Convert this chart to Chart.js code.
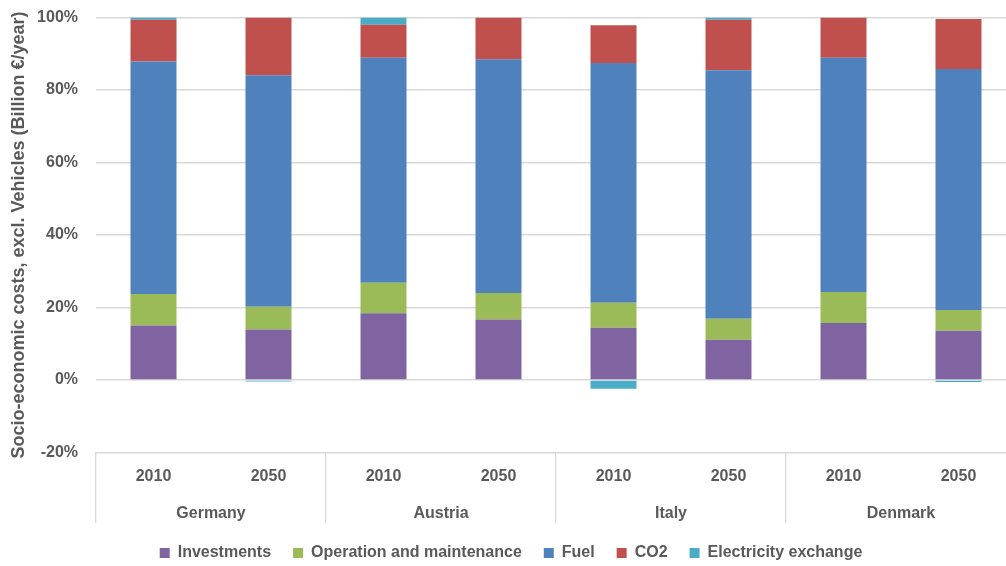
<!DOCTYPE html>
<html>
<head>
<meta charset="utf-8">
<script src="https://cdn.jsdelivr.net/npm/chart.js@4.4.0/dist/chart.umd.min.js"></script>
<style>
  html, body { margin: 0; padding: 0; background: #ffffff; overflow: hidden; }
  #wrap { width: 1026px; height: 571px; position: relative; }
</style>
</head>
<body>
<div id="wrap"><canvas id="c"></canvas></div>
<script>
const years = ['2010', '2050', '2010', '2050', '2010', '2050', '2010', '2050'];
const countries = ['Germany', 'Austria', 'Italy', 'Denmark'];
const investments = [15.0, 13.9, 18.4, 16.7, 14.4, 11.1, 15.7, 13.6];
const operationMaintenance = [8.7, 6.3, 8.4, 7.3, 6.9, 5.8, 8.6, 5.7];
const fuel = [64.2, 63.9, 62.1, 64.5, 66.2, 68.6, 64.6, 66.5];
const co2 = [11.5, 15.9, 9.1, 11.5, 10.4, 13.9, 11.1, 13.8];
const electricityExchange = [0.6, -0.4, 2.0, 0, -2.4, 0.6, 0, -0.6];
const yTicks = [-20, 0, 20, 40, 60, 80, 100];

const FONT = "'Liberation Sans', Arial, sans-serif";
const GREY = '#595959';
const GRID = '#d9d9d9';

function ds(label, data, color) {
  return { label, data, backgroundColor: color, borderWidth: 0, barPercentage: 1, categoryPercentage: 0.4, xAxisID: 'x' };
}

new Chart(document.getElementById('c'), {
  type: 'bar',
  data: {
    labels: years,
    datasets: [
      ds('Investments', investments, '#8064A2'),
      ds('Operation and maintenance', operationMaintenance, '#9BBB59'),
      ds('Fuel', fuel, '#4F81BD'),
      ds('CO2', co2, '#C0504D'),
      ds('Electricity exchange', electricityExchange, '#4BACC6')
    ]
  },
  options: {
    responsive: true,
    maintainAspectRatio: false,
    animation: false,
    layout: { padding: { left: 6, right: 10, top: 7, bottom: 0 } },
    plugins: {
      tooltip: { enabled: false },
      legend: {
        position: 'bottom',
        labels: {
          boxWidth: 10, boxHeight: 10, padding: 22,
          color: GREY, font: { family: FONT, size: 16, weight: 'bold' }
        }
      }
    },
    scales: {
      x: {
        type: 'category',
        stacked: true,
        position: 'bottom',
        weight: 0,
        offset: true,
        border: { display: false },
        grid: {
          offset: true,
          drawOnChartArea: false,
          drawTicks: true,
          tickLength: 33.6,
          lineWidth: 1.3,
          color: (ctx) => (ctx.index === undefined || ctx.index % 2 === 0) ? GRID : 'rgba(0,0,0,0)'
        },
        ticks: { color: GREY, padding: -9.6, crossAlign: 'center', maxRotation: 0, autoSkip: false, font: { family: FONT, size: 16, weight: 'bold' } }
      },
      x2: {
        type: 'category',
        labels: countries,
        position: 'bottom',
        weight: 1,
        offset: true,
        border: { display: false },
        grid: {
          offset: true,
          drawOnChartArea: false,
          drawTicks: true,
          tickLength: 37,
          lineWidth: 1.3,
          color: GRID
        },
        ticks: { color: GREY, padding: -9.6, crossAlign: 'center', maxRotation: 0, autoSkip: false, font: { family: FONT, size: 16, weight: 'bold' } }
      },
      y: {
        stacked: true,
        min: -20,
        max: 100,
        afterBuildTicks: (scale) => { scale.ticks = yTicks.map(v => ({ value: v })); },
        afterFit: (scale) => { scale.width = 90; },
        border: { display: false },
        grid: { color: GRID, lineWidth: 1.5, drawTicks: true, tickLength: 10, tickColor: 'rgba(0,0,0,0)' },
        ticks: {
          color: GREY, padding: 8,
          font: { family: FONT, size: 16, weight: 'bold' },
          callback: (v) => v + '%'
        },
        title: {
          display: true,
          text: 'Socio-economic costs, excl. Vehicles (Billion €/year)',
          color: GREY,
          padding: { top: 2, bottom: 4 },
          font: { family: FONT, size: 18, weight: 'bold' }
        }
      }
    }
  }
});
</script>
</body>
</html>
